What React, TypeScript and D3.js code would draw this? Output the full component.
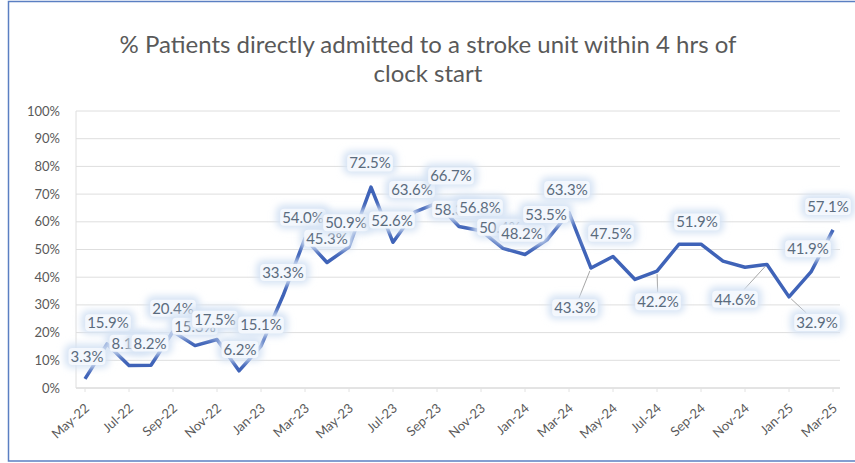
import React, { useEffect, useRef } from 'react';
import * as d3 from 'd3';

const titleLines = ['% Patients directly admitted to a stroke unit within 4 hrs of', 'clock start'];

const months = [
  'May-22', 'Jun-22', 'Jul-22', 'Aug-22', 'Sep-22', 'Oct-22', 'Nov-22', 'Dec-22',
  'Jan-23', 'Feb-23', 'Mar-23', 'Apr-23', 'May-23', 'Jun-23', 'Jul-23', 'Aug-23',
  'Sep-23', 'Oct-23', 'Nov-23', 'Dec-23', 'Jan-24', 'Feb-24', 'Mar-24', 'Apr-24',
  'May-24', 'Jun-24', 'Jul-24', 'Aug-24', 'Sep-24', 'Oct-24', 'Nov-24', 'Dec-24',
  'Jan-25', 'Feb-25', 'Mar-25',
];

const values = [
  3.3, 15.9, 8.1, 8.2, 20.4, 15.3, 17.5, 6.2,
  15.1, 33.3, 54.0, 45.3, 50.9, 72.5, 52.6, 63.6,
  66.7, 58.3, 56.8, 50.4, 48.2, 53.5, 63.3, 43.3,
  47.5, 39.2, 42.2, 51.9, 51.9, 45.8, 43.6, 44.6,
  32.9, 41.9, 57.1,
];

const xTickLabels = [
  'May-22', 'Jul-22', 'Sep-22', 'Nov-22', 'Jan-23', 'Mar-23', 'May-23', 'Jul-23', 'Sep-23',
  'Nov-23', 'Jan-24', 'Mar-24', 'May-24', 'Jul-24', 'Sep-24', 'Nov-24', 'Jan-25', 'Mar-25',
];

const yTicks = [0, 10, 20, 30, 40, 50, 60, 70, 80, 90, 100];

// months whose data label is not shown
const hiddenLabels = ['Jun-24', 'Aug-24', 'Oct-24', 'Nov-24'];

// label centre offsets relative to the point (styling only)
const labelOffsets: Record<string, [number, number]> = {
  'May-22': [2, -22], 'Jun-22': [1, -21], 'Jul-22': [-1, -22], 'Aug-22': [-1, -22],
  'Sep-22': [0, -23], 'Oct-22': [0, -19], 'Nov-22': [-2, -20], 'Dec-22': [1, -21],
  'Jan-23': [0, -21], 'Feb-23': [0, -23], 'Mar-23': [-2, -21], 'Apr-23': [0, -24],
  'May-23': [-3, -24], 'Jun-23': [-1, -24], 'Jul-23': [-1, -22], 'Aug-23': [-3, -22],
  'Sep-23': [14, -27], 'Oct-23': [-4, -17], 'Nov-23': [-1, -23], 'Dec-23': [-3, -21],
  'Jan-24': [-3, -21], 'Feb-24': [-1, -25], 'Mar-24': [-2, -23], 'Apr-24': [-16, 40],
  'May-24': [-2, -23], 'Jul-24': [1, 31], 'Sep-24': [-4, -22], 'Dec-24': [-32, 35],
  'Jan-25': [28, 26], 'Feb-25': [-3, -23], 'Mar-25': [-5, -23],
};
const leaderLabels = ['Apr-24', 'Jul-24', 'Dec-24', 'Jan-25'];

export default function App() {
  const ref = useRef<SVGSVGElement>(null);

  useEffect(() => {
    const svg = d3.select(ref.current);
    svg.selectAll('*').remove();
    const W = 855;
    const H = 463;
    const font = 'Lato, "Open Sans", sans-serif';

    const defs = svg.append('defs');
    defs.append('filter').attr('id', 'glow')
      .attr('x', '-50%').attr('y', '-100%').attr('width', '200%').attr('height', '300%')
      .append('feGaussianBlur').attr('stdDeviation', 3.5);

    const x = d3.scalePoint<string>().domain(months).range([85, 833]);
    const y = d3.scaleLinear().domain([0, 100]).range([388, 111]);

    svg.append('rect').attr('width', W).attr('height', H).attr('fill', '#ffffff');
    svg.append('path')
      .attr('d', `M${W + 5},1.5 H8.5 V461 H${W + 5}`)
      .attr('fill', 'none').attr('stroke', '#5b7fc2').attr('stroke-width', 1.5);

    // title
    titleLines.forEach((t, i) => {
      svg.append('text')
        .attr('x', 428).attr('y', 45 + i * 29)
        .attr('text-anchor', 'middle').attr('dy', '0.35em')
        .attr('font-family', font).attr('font-size', 24)
        .attr('fill', '#595959').text(t);
    });

    // gridlines
    yTicks.forEach((t) => {
      svg.append('line')
        .attr('x1', 76).attr('x2', 840)
        .attr('y1', y(t)).attr('y2', y(t))
        .attr('stroke', t === 0 ? '#c8c8c8' : '#dedede').attr('stroke-width', 1);
      svg.append('text')
        .attr('x', 60).attr('y', y(t)).attr('dy', '0.35em')
        .attr('text-anchor', 'end')
        .attr('font-family', font).attr('font-size', 13)
        .attr('fill', '#595959').text(`${t}%`);
    });
    svg.append('line')
      .attr('x1', 76).attr('x2', 76).attr('y1', y(100)).attr('y2', y(0))
      .attr('stroke', '#dedede');

    // x axis labels
    xTickLabels.forEach((m) => {
      const px = x(m)!;
      svg.append('line')
        .attr('x1', px).attr('x2', px).attr('y1', y(0)).attr('y2', y(0) + 4)
        .attr('stroke', '#e2e2e2');
      svg.append('text')
        .attr('transform', `translate(${px + 2},${y(0) + 18}) rotate(-42)`)
        .attr('text-anchor', 'end').attr('dy', '0.35em')
        .attr('font-family', font).attr('font-size', 13)
        .attr('fill', '#595959').text(m);
    });

    // line
    const line = d3.line<number>()
      .x((_, i) => x(months[i])!)
      .y((d) => y(d));
    svg.append('path').datum(values)
      .attr('d', line)
      .attr('fill', 'none').attr('stroke', '#3f63b8')
      .attr('stroke-width', 3.5).attr('stroke-linejoin', 'round');

    // labels
    const labelLayer = svg.append('g');
    const leaderLayer = svg.insert('g', () => labelLayer.node());
    months.forEach((m, i) => {
      if (hiddenLabels.includes(m)) return;
      const px = x(m)!;
      const py = y(values[i]);
      const [dx, dy] = labelOffsets[m] || [0, -22];
      const cx = px + dx;
      const cy = py + dy;
      const g = labelLayer.append('g');
      const text = g.append('text')
        .attr('x', cx).attr('y', cy).attr('dy', '0.35em')
        .attr('text-anchor', 'middle')
        .attr('font-family', font).attr('font-size', 15)
        .attr('fill', '#5a6b7d').text(`${values[i].toFixed(1)}%`);
      const bb = (text.node() as SVGTextElement).getBBox();
      g.insert('rect', 'text')
        .attr('x', bb.x - 6).attr('y', bb.y - 3)
        .attr('width', bb.width + 12).attr('height', bb.height + 6)
        .attr('rx', 7)
        .attr('fill', '#d6e3f4').attr('filter', 'url(#glow)');
      g.insert('rect', 'text')
        .attr('x', bb.x - 2).attr('y', bb.y + 1)
        .attr('width', bb.width + 4).attr('height', bb.height - 1)
        .attr('rx', 4)
        .attr('fill', '#f5f8fd').attr('opacity', 0.92);

      if (leaderLabels.includes(m)) {
        const vx = cx - px;
        const vy = cy - py;
        const hw = bb.width / 2 + 2;
        const hh = bb.height / 2 + 1;
        const t = Math.min(hw / Math.abs(vx || 1e-6), hh / Math.abs(vy || 1e-6));
        const ex = cx - vx * t;
        const ey = cy - vy * t;
        const len = Math.hypot(vx, vy);
        leaderLayer.append('line')
          .attr('x1', px + (vx / len) * 3).attr('y1', py + (vy / len) * 3)
          .attr('x2', ex).attr('y2', ey)
          .attr('stroke', '#a6a6a6').attr('stroke-width', 1);
      }
    });
  }, []);

  return (
    <svg
      ref={ref}
      width={855}
      height={463}
      style={{ position: 'absolute', left: 0, top: 0, display: 'block' }}
    />
  );
}
